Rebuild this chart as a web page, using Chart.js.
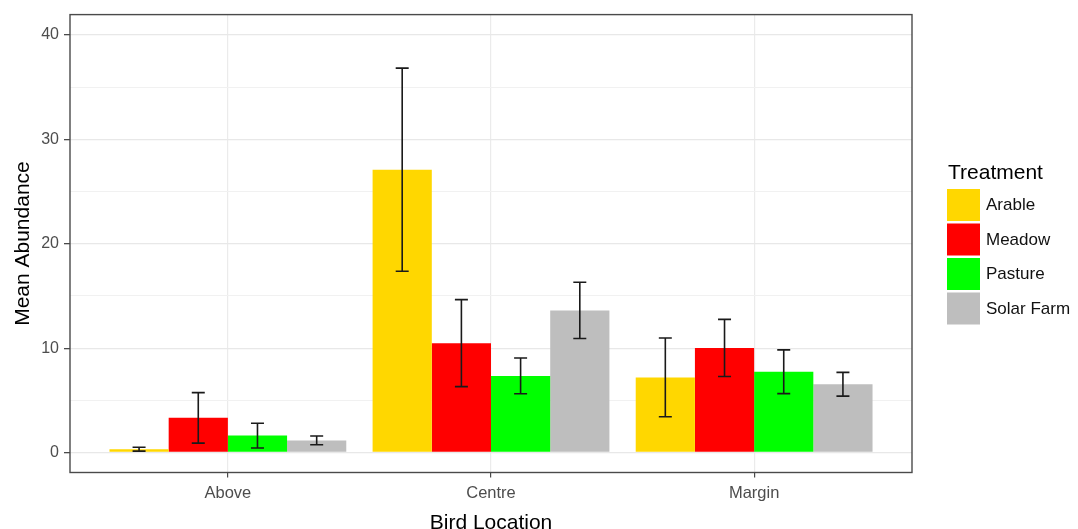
<!DOCTYPE html>
<html>
<head>
<meta charset="utf-8">
<script src="https://cdn.jsdelivr.net/npm/chart.js@4/dist/chart.umd.min.js"></script>
<style>
  html, body { margin: 0; padding: 0; background: #ffffff; }
  #c { display: block; }
</style>
</head>
<body>
<canvas id="c" width="1078" height="529"></canvas>
<script>
// ---- data ----
const categories = ['Above', 'Centre', 'Margin'];
const treatments = ['Arable', 'Meadow', 'Pasture', 'Solar Farm'];
const arable = [0.32, 27.1, 7.2];
const arableErr = [0.19, 9.73, 3.77];
const meadow = [3.32, 10.48, 10.02];
const meadowErr = [2.42, 4.17, 2.74];
const pasture = [1.62, 7.34, 7.74];
const pastureErr = [1.18, 1.71, 2.10];
const solar = [1.16, 13.62, 6.54];
const solarErr = [0.42, 2.70, 1.14];
const yTicks = [0, 5, 10, 15, 20, 25, 30, 35, 40];
const colors = ['#FFD700', '#FF0000', '#00FF00', '#BEBEBE'];

const FONT = "'Liberation Sans', Arial, sans-serif";
const series = [arable, meadow, pasture, solar];
const errs = [arableErr, meadowErr, pastureErr, solarErr];

const datasets = series.map((vals, i) => ({
  label: treatments[i],
  data: vals.map((v, j) => ({ x: j + 1, y: v })),
  err: errs[i],
  backgroundColor: colors[i],
  borderWidth: 0,
  categoryPercentage: 0.9,
  barPercentage: 1.0
}));

const errorBars = {
  id: 'errorBars',
  afterDatasetsDraw(chart) {
    const ctx = chart.ctx;
    const ys = chart.scales.y;
    ctx.save();
    ctx.strokeStyle = '#1a1a1a';
    ctx.lineWidth = 1.6;
    chart.data.datasets.forEach((ds, i) => {
      const meta = chart.getDatasetMeta(i);
      meta.data.forEach((el, j) => {
        const v = ds.data[j].y, e = ds.err[j];
        const yt = ys.getPixelForValue(v + e);
        const yb = ys.getPixelForValue(v - e);
        const x = el.x, hw = 6.5;
        ctx.beginPath();
        ctx.moveTo(x, yt); ctx.lineTo(x, yb);
        ctx.moveTo(x - hw, yt); ctx.lineTo(x + hw, yt);
        ctx.moveTo(x - hw, yb); ctx.lineTo(x + hw, yb);
        ctx.stroke();
      });
    });
    ctx.restore();
  }
};

const panelAndLegend = {
  id: 'panelAndLegend',
  afterDraw(chart) {
    const ctx = chart.ctx;
    const a = chart.chartArea;
    ctx.save();
    ctx.strokeStyle = '#4a4a4a';
    ctx.lineWidth = 1.4;
    ctx.strokeRect(a.left, a.top, a.right - a.left, a.bottom - a.top);
    // legend
    const lx = 947;
    ctx.fillStyle = '#000000';
    ctx.textBaseline = 'middle';
    ctx.textAlign = 'left';
    ctx.font = '21px ' + FONT;
    ctx.fillText('Treatment', lx + 1, 173);
    ctx.font = '17px ' + FONT;
    chart.data.datasets.forEach((ds, i) => {
      const ky = 189 + i * 34.5;
      ctx.fillStyle = ds.backgroundColor;
      ctx.fillRect(lx, ky, 33, 32);
      ctx.fillStyle = '#111111';
      ctx.fillText(ds.label, 986, ky + 16.5);
    });
    ctx.restore();
  }
};

new Chart(document.getElementById('c'), {
  type: 'bar',
  data: { datasets },
  options: {
    responsive: false,
    animation: false,
    devicePixelRatio: 1,
    layout: { padding: { top: 14, right: 166, left: 0, bottom: 0 } },
    plugins: { legend: { display: false }, tooltip: { enabled: false } },
    scales: {
      x: {
        type: 'linear',
        offset: false,
        min: 0.4,
        max: 3.6,
        afterBuildTicks(axis) { axis.ticks = categories.map((c, i) => ({ value: i + 1 })); },
        afterFit(scale) { scale.height = 56.5; },
        ticks: {
          callback: (v) => categories[Math.round(v) - 1] || '',
          color: '#4d4d4d',
          font: { family: FONT, size: 16.5 },
          padding: 6,
          maxRotation: 0,
          autoSkip: false
        },
        grid: { offset: false, color: '#ebebeb', lineWidth: 1.2, tickLength: 5, tickColor: '#4a4a4a', drawOnChartArea: true },
        border: { display: false },
        title: {
          display: true, text: 'Bird Location', color: '#000000',
          font: { family: FONT, size: 21, lineHeight: 0.57 },
          padding: { top: 0, bottom: 0 }
        }
      },
      y: {
        min: -1.914,
        max: 41.96,
        afterBuildTicks(axis) { axis.ticks = yTicks.map(v => ({ value: v })); },
        afterFit(scale) { scale.width = 70; },
        ticks: {
          callback: (v) => (v % 10 === 0 ? String(v) : ''),
          color: '#4d4d4d',
          font: { family: FONT, size: 16 },
          padding: 5
        },
        grid: {
          color: (c) => (c.tick && c.tick.value % 10 === 0 ? '#e8e8e8' : '#f1f1f1'),
          lineWidth: (c) => (c.tick && c.tick.value % 10 === 0 ? 1.3 : 1),
          tickLength: 6,
          tickColor: (c) => (c.tick && c.tick.value % 10 === 0 ? '#4a4a4a' : 'rgba(0,0,0,0)')
        },
        border: { display: false },
        title: {
          display: true, text: 'Mean Abundance', color: '#000000',
          font: { family: FONT, size: 21, lineHeight: 1.0 },
          padding: { top: 13, bottom: 0 }
        }
      }
    }
  },
  plugins: [errorBars, panelAndLegend]
});
</script>
</body>
</html>
